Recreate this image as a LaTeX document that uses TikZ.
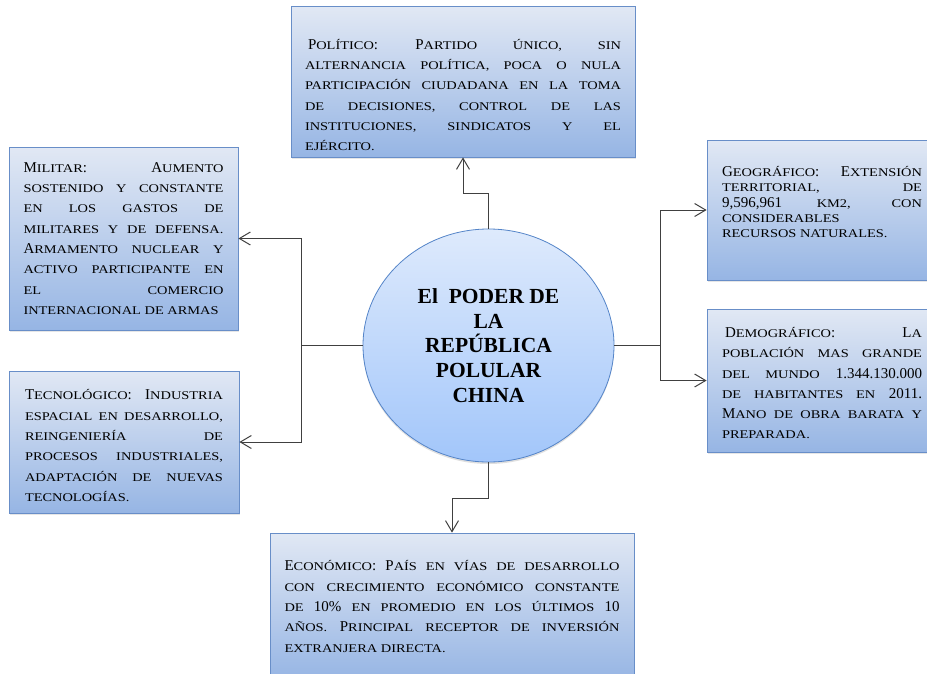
\documentclass[tikz,border=0pt]{standalone}
\usepackage{fontspec}
\setmainfont{Liberation Serif}
\newfontfamily\scfam[FakeStretch=1.22]{Liberation Serif}
\usetikzlibrary{arrows.meta,shapes.geometric,shadows}
\hyphenpenalty=10000\relax
\definecolor{boxtop}{RGB}{225,232,244}
\definecolor{boxbot}{RGB}{150,181,228}
\definecolor{boxline}{RGB}{104,142,200}
\definecolor{hubtop}{RGB}{222,234,252}
\definecolor{hubbot}{RGB}{162,198,250}
\definecolor{hubline}{RGB}{84,132,200}
\newcommand{\sm}[1]{{\scfam\fontsize{11.8}{20}\selectfont #1}}
\tikzstyle{factor}=[rectangle, draw=boxline, line width=0.8pt, top color=boxtop, bottom color=boxbot, inner sep=0pt, align=justify, font=\fontsize{15}{20.3}\selectfont, drop shadow={opacity=0.2, shadow xshift=1pt, shadow yshift=-1.5pt}]
\tikzstyle{hub}=[ellipse, draw=hubline, line width=0.8pt, top color=hubtop, bottom color=hubbot, inner sep=0pt, align=center, font=\bfseries\fontsize{21.5}{24.7}\selectfont, drop shadow={opacity=0.25, shadow xshift=0pt, shadow yshift=-2pt}]
\tikzstyle{link}=[draw=black!75, line width=1pt, -{Straight Barb[length=11pt,width=13pt]}]

\begin{document}
\begin{tikzpicture}[x=1pt, y=-1pt]
\useasboundingbox (0, 0) rectangle (927, 673);
\clip (0, 0) rectangle (927, 673);

\node[hub, minimum width=251pt, minimum height=233pt] at (488.5, 345.5) (ch) {El\ \ PODER DE\\LA\\REPÚBLICA\\POLULAR\\CHINA};

\node[factor, text width=316pt, minimum width=344pt, minimum height=151pt] at (463, 81.5) (pol) {\rule{0pt}{37pt}\hspace*{3pt}P\sm{OLÍTICO}: P\sm{ARTIDO ÚNICO, SIN}\linebreak \sm{ALTERNANCIA POLÍTICA, POCA O NULA}\linebreak \sm{PARTICIPACIÓN CIUDADANA EN LA TOMA}\linebreak \sm{DE DECISIONES, CONTROL DE LAS}\linebreak \sm{INSTITUCIONES, SINDICATOS Y EL}\linebreak \sm{EJÉRCITO.}};
\node[factor, text width=200pt, minimum width=229pt, minimum height=183pt] at (123.5, 238.5) (mil) {M\sm{ILITAR}: A\sm{UMENTO}\linebreak \sm{SOSTENIDO Y CONSTANTE}\linebreak \sm{EN LOS GASTOS DE}\linebreak \sm{MILITARES Y DE DEFENSA.}\linebreak A\sm{RMAMENTO NUCLEAR Y}\linebreak \sm{ACTIVO PARTICIPANTE EN}\linebreak \sm{EL COMERCIO}\linebreak \sm{INTERNACIONAL DE ARMAS}};
\node[factor, text width=198pt, minimum width=230pt, minimum height=142pt] at (124, 442) (tec) {\rule{0pt}{17.5pt}T\sm{ECNOLÓGICO}: I\sm{NDUSTRIA}\linebreak \sm{ESPACIAL EN DESARROLLO,}\linebreak \sm{REINGENIERÍA DE}\linebreak \sm{PROCESOS INDUSTRIALES,}\linebreak \sm{ADAPTACIÓN DE NUEVAS}\linebreak \sm{TECNOLOGÍAS.}};
\node[factor, text width=200pt, minimum width=230pt, minimum height=140pt, font=\fontsize{15}{15.4}\selectfont] at (822, 210) (geo) {G\sm{EOGRÁFICO}: E\sm{XTENSIÓN}\linebreak \sm{TERRITORIAL, DE}\linebreak 9,596,961 \sm{KM2, CON}\linebreak \sm{CONSIDERABLES}\\ \sm{RECURSOS NATURALES.}\rule[-16pt]{0pt}{16pt}};
\node[factor, text width=200pt, minimum width=230pt, minimum height=143pt] at (822, 380.5) (dem) {\rule{0pt}{15.5pt}\hspace*{3pt}D\sm{EMOGRÁFICO}: L\sm{A}\linebreak \sm{POBLACIÓN MAS GRANDE}\linebreak \sm{DEL MUNDO} 1.344.130.000\linebreak \sm{DE HABITANTES EN} 2011.\linebreak M\sm{ANO DE OBRA BARATA Y}\linebreak \sm{PREPARADA.}};
\node[factor, text width=335pt, minimum width=364pt, minimum height=147pt] at (452, 606.5) (eco) {E\sm{CONÓMICO}: P\sm{AÍS EN VÍAS DE DESARROLLO}\linebreak \sm{CON CRECIMIENTO ECONÓMICO CONSTANTE}\linebreak \sm{DE} 10\% \sm{EN PROMEDIO EN LOS ÚLTIMOS} 10\linebreak \sm{AÑOS.} P\sm{RINCIPAL RECEPTOR DE INVERSIÓN}\linebreak \sm{EXTRANJERA DIRECTA.}};

\coordinate (jt) at (488.5, 193);
\coordinate (jb) at (488.5, 498);
\coordinate (jl) at (301, 345.5);
\coordinate (jr) at (660, 345.5);

\draw[link] (ch.north) -- (jt) -| (pol.south);
\draw[link] (ch.south) -- (jb) -| (eco.north);
\draw[link] (ch.west) -- (jl) |- (mil.east);
\draw[link] (jl) |- (tec.east);
\draw[link] (ch.east) -- (jr) |- (geo.west);
\draw[link] (jr) |- (dem.west);

\end{tikzpicture}
\end{document}
